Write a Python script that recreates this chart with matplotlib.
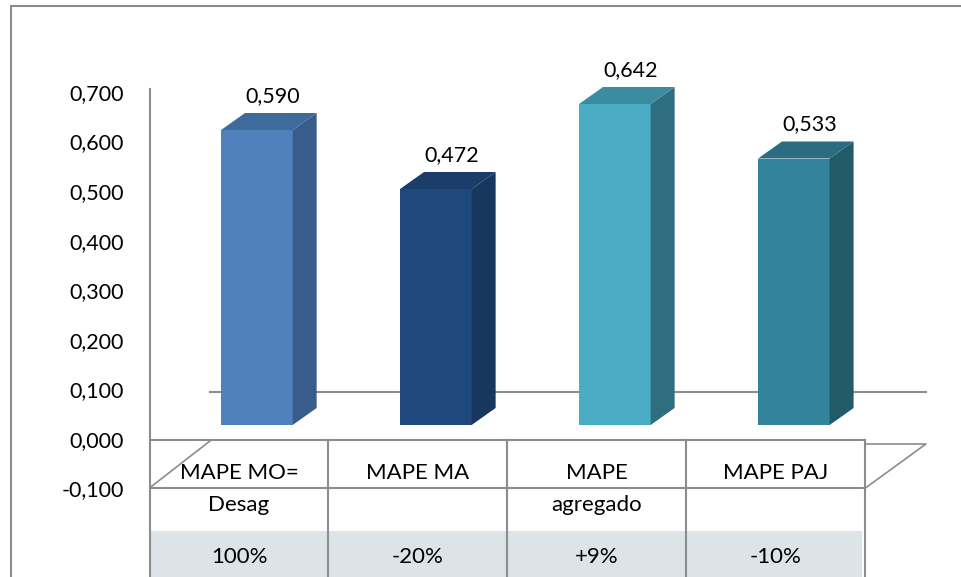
import matplotlib.pyplot as plt
from matplotlib.patches import Polygon, Rectangle
from matplotlib.lines import Line2D
from matplotlib.ticker import FuncFormatter
import numpy as np

plt.rcParams['font.family'] = ['Lato', 'DejaVu Sans']

# data
categories = ['MAPE MO=\nDesag', 'MAPE MA', 'MAPE\nagregado', 'MAPE PAJ']
values = [0.590, 0.472, 0.642, 0.533]
value_labels = ['0,590', '0,472', '0,642', '0,533']
changes = ['100%', '-20%', '+9%', '-10%']

# styles
front = ['#4f81bd', '#1f497d', '#4bacc6', '#31849b']
side = ['#385d8a', '#17375e', '#2f6e7f', '#215a69']
top = ['#3f6a9c', '#1a3d69', '#3b8ba1', '#2a6d80']
grey = '#8c8c8c'
fs = 15.5
fs_tab = 16

fig = plt.figure(figsize=(9.61, 5.77), dpi=100)
ax = fig.add_axes([150 / 961, 0, (961 - 150) / 961, 1])
ax.set_xlim(-0.497, 4.034)
ax.set_ylim(-0.304, 0.85)

# depth of the bars and of the floor
bdx, bdy = 0.134, 0.034
fdx, fdy = 0.338, 0.094
y_floor = -0.126
y_row2 = -0.212

x = np.arange(len(values))

# back gridline
ax.plot([-0.5 + fdx, 3.5 + fdx], [0.066, 0.066], color=grey, lw=1.5, zorder=1)

bars = ax.bar(x + 0.1, values, width=0.4, color=front, zorder=3)
for i, b in enumerate(bars):
    x0, w, h = b.get_x(), b.get_width(), b.get_height()
    ax.add_patch(Polygon([(x0 + w, 0), (x0 + w + bdx, bdy), (x0 + w + bdx, h + bdy), (x0 + w, h)],
                         closed=True, facecolor=side[i], edgecolor='none', zorder=3))
    ax.add_patch(Polygon([(x0, h), (x0 + bdx, h + bdy), (x0 + w + bdx, h + bdy), (x0 + w, h)],
                         closed=True, facecolor=top[i], edgecolor='none', zorder=3))
    ax.text(x0 + w / 2 + bdx / 2 + 0.02, h + bdy + 0.014, value_labels[i], ha='center', va='bottom',
            fontsize=fs, zorder=5)

# floor / data table
n = len(values)
ax.add_patch(Rectangle((-0.49, -0.304), n - 0.03, y_row2 + 0.304, facecolor='#dde4e8',
                       edgecolor='none', zorder=1))
ax.plot([-0.5, n - 0.5], [-0.03, -0.03], color=grey, lw=1.5, zorder=2)
ax.plot([-0.5, n - 0.5], [y_floor, y_floor], color=grey, lw=1.5, zorder=2)
ax.plot([-0.5, -0.5 + fdx], [y_floor, y_floor + fdy], color=grey, lw=1.2, zorder=2)
ax.plot([n - 0.5, n - 0.5 + fdx, n - 0.5], [y_floor, y_floor + fdy - 0.006, y_floor + fdy - 0.006],
        color=grey, lw=1.2, zorder=2)
for k in range(1, n + 1):
    ax.plot([k - 0.5, k - 0.5], [-0.03, -0.304], color=grey, lw=1.5, zorder=2)

for i, cat in enumerate(categories):
    lines = cat.split('\n')
    ax.text(i, -0.096, lines[0], ha='center', va='center', fontsize=fs_tab)
    if len(lines) > 1:
        ax.text(i, -0.16, lines[1], ha='center', va='center', fontsize=fs_tab)
    ax.text(i, -0.264, changes[i], ha='center', va='center', fontsize=fs_tab)

# axes styling
for s in ['top', 'right', 'bottom']:
    ax.spines[s].set_visible(False)
ax.spines['left'].set_color(grey)
ax.spines['left'].set_linewidth(1.5)
ax.spines['left'].set_bounds(-0.304, 0.672)
ax.set_xticks([])
ax.set_yticks([])

sec = ax.secondary_yaxis('left', functions=(lambda v: (14 + 500 * v) / 495.7,
                                             lambda u: (495.7 * u - 14) / 500))
sec.set_yticks([-0.1, 0, 0.1, 0.2, 0.3, 0.4, 0.5, 0.6, 0.7])
sec.yaxis.set_major_formatter(FuncFormatter(lambda u, p: f'{u:.3f}'.replace('.', ',')))
sec.tick_params(length=0, pad=19, labelsize=fs)
sec.spines['left'].set_visible(False)

# chart area border
fig.add_artist(Line2D([11 / 961, 11 / 961], [0, 1 - 6 / 577], transform=fig.transFigure, color=grey, lw=1.5))
fig.add_artist(Line2D([11 / 961, 1], [1 - 6 / 577, 1 - 6 / 577], transform=fig.transFigure, color=grey, lw=1.5))

fig.savefig('out.png', dpi=100)
